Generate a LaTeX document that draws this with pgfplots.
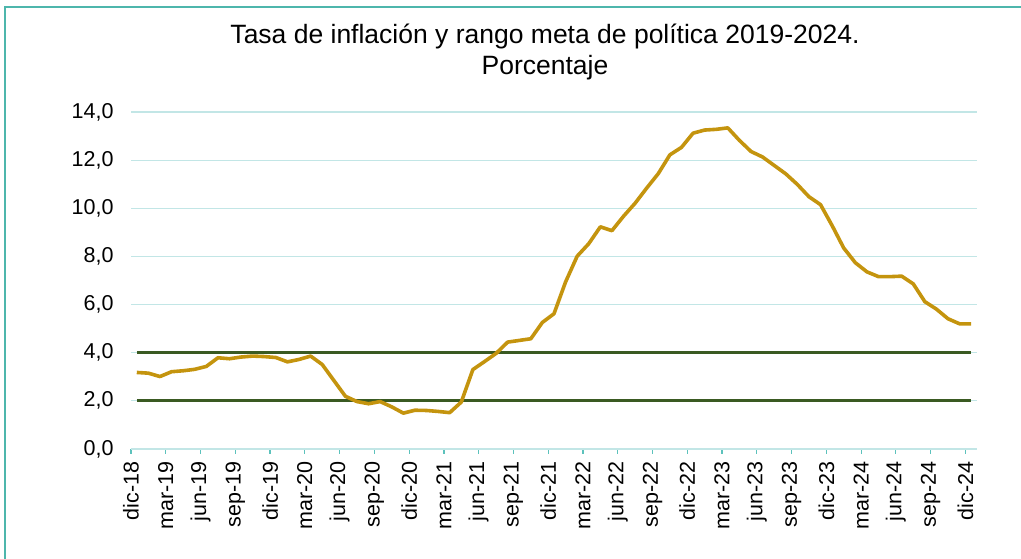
\documentclass[border=0pt]{standalone}
\usepackage{pgfplots}
\pgfplotsset{compat=1.18}
\usepackage{pgfplotstable}
\usepackage{fontspec}
\setmainfont{Liberation Sans}
\definecolor{gold}{HTML}{C4940E}
\definecolor{gridc}{HTML}{C2E6E6}
\definecolor{frame}{HTML}{4DB6AC}
\definecolor{dgreen}{HTML}{3A5A22}
\definecolor{tickc}{HTML}{5CC2BC}
\pgfplotstableread{
x y
0 3.18
1 3.15
2 3.01
3 3.21
4 3.25
5 3.31
6 3.43
7 3.79
8 3.75
9 3.82
10 3.86
11 3.84
12 3.80
13 3.62
14 3.72
15 3.86
16 3.51
17 2.85
18 2.19
19 1.97
20 1.88
21 1.97
22 1.75
23 1.49
24 1.61
25 1.60
26 1.56
27 1.51
28 1.95
29 3.30
30 3.63
31 3.97
32 4.44
33 4.51
34 4.58
35 5.26
36 5.62
37 6.94
38 8.01
39 8.53
40 9.23
41 9.07
42 9.67
43 10.21
44 10.84
45 11.44
46 12.22
47 12.53
48 13.12
49 13.25
50 13.28
51 13.34
52 12.82
53 12.36
54 12.13
55 11.78
56 11.43
57 10.99
58 10.48
59 10.15
60 9.28
61 8.35
62 7.74
63 7.36
64 7.16
65 7.16
66 7.18
67 6.86
68 6.12
69 5.81
70 5.41
71 5.20
72 5.20
}\inflation
\begin{document}
\begin{tikzpicture}[x=1pt,y=1pt]
\useasboundingbox (0,0) rectangle (1021,559);
\draw[frame, line width=2pt] (5,-5) -- (5,552) -- (1030,552);
\node[font=\fontsize{26.5}{30}\selectfont] at (545,522) {Tasa de inflación y rango meta de política 2019-2024.};
\node[font=\fontsize{26.5}{30}\selectfont] at (545,491) {Porcentaje};
\begin{axis}[
  at={(131pt,110pt)}, anchor=south west,
  scale only axis, width=846pt, height=337pt,
  xmin=-0.5, xmax=72.5, ymin=0, ymax=14,
  axis line style={draw=none},
  ymajorgrids, grid style={gridc, line width=1.2pt},
  ytick={0,2,...,14},
  yticklabel style={font=\fontsize{21.5}{24}\selectfont, /pgf/number format/.cd, use comma, fixed, fixed zerofill, precision=1, assume math mode=true},
  yticklabel shift=9pt,
  ytick style={draw=none},
  xtick={-0.5,2.5,...,71.5},
  xtick pos=lower,
  xticklabels={dic-18,mar-19,jun-19,sep-19,dic-19,mar-20,jun-20,sep-20,dic-20,mar-21,jun-21,sep-21,dic-21,mar-22,jun-22,sep-22,dic-22,mar-23,jun-23,sep-23,dic-23,mar-24,jun-24,sep-24,dic-24},
  xticklabel style={rotate=90, anchor=east, font=\fontsize{21.5}{24}\selectfont},
  xticklabel shift=4pt,
  tick align=outside, major tick length=5pt,
  xtick style={tickc, line width=1.2pt},
  clip=false,
]
\addplot[gridc, line width=1.2pt, forget plot] coordinates {(-0.5,0) (72.5,0)};
\addplot[dgreen, line width=2.8pt] coordinates {(0,4) (72,4)};
\addplot[dgreen, line width=2.8pt] coordinates {(0,2) (72,2)};
\addplot[gold, line width=3.6pt, line join=round] table[x=x,y=y] {\inflation};
\end{axis}
\end{tikzpicture}
\end{document}
